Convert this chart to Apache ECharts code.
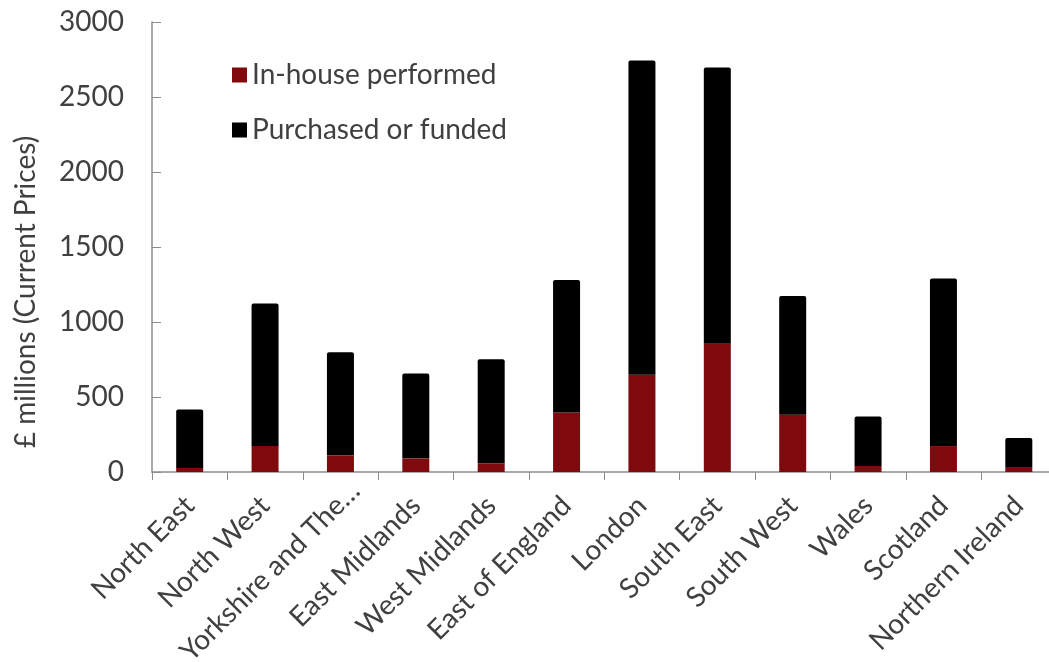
<!DOCTYPE html>
<html>
<head>
<meta charset="utf-8">
<script src="https://cdn.jsdelivr.net/npm/echarts@6/dist/echarts.min.js"></script>
<style>
  html, body { margin: 0; padding: 0; background: #fff; }
  #chart { width: 1049px; height: 662px; }
</style>
</head>
<body>
<div id="chart"></div>
<script>
// Regional R&D expenditure, £ millions (current prices)
const regions = ['North East', 'North West', 'Yorkshire and The Humber', 'East Midlands',
  'West Midlands', 'East of England', 'London', 'South East', 'South West', 'Wales',
  'Scotland', 'Northern Ireland'];
const inHouse = [27, 174, 111, 91, 58, 396, 648, 855, 381, 40, 173, 29];
const purchased = [389, 950, 688, 566, 694, 884, 2096, 1842, 792, 330, 1117, 198];
const yTicks = [0, 500, 1000, 1500, 2000, 2500, 3000];

const textColor = '#404040';
const fontFamily = 'Lato, "Open Sans", sans-serif';
const maxLabelChars = 17;

// shortened names sit a little further along their slant
const categoryData = regions.map(function (name) {
  return name.length > maxLabelChars
    ? { value: name, textStyle: { padding: [0, -21, 0, 0] } }
    : name;
});

const chart = echarts.init(document.getElementById('chart'));
chart.setOption({
  animation: false,
  textStyle: { fontFamily: fontFamily, color: textColor },
  // plot area runs slightly past the right edge of the canvas
  grid: { left: 152, right: -7.5, top: 22, bottom: 190, containLabel: false, outerBoundsMode: 'none' },
  legend: {
    orient: 'vertical',
    left: 227,
    top: 56,
    itemGap: 27,
    itemWidth: 15,
    itemHeight: 15,
    icon: 'rect',
    textStyle: { fontSize: 28, color: textColor, fontFamily: fontFamily },
    data: ['In-house performed', 'Purchased or funded']
  },
  xAxis: {
    type: 'category',
    data: categoryData,
    axisLine: { lineStyle: { color: '#8c8c8c', width: 1.5 } },
    axisTick: { show: true, inside: false, length: 8, lineStyle: { color: '#8c8c8c' } },
    axisLabel: {
      rotate: 45,
      interval: 0,
      fontSize: 28,
      color: textColor,
      fontFamily: fontFamily,
      margin: 29,
      formatter: function (v) {
        return v.length > maxLabelChars ? v.slice(0, maxLabelChars) + '…' : v;
      }
    }
  },
  yAxis: {
    type: 'value',
    min: yTicks[0],
    max: yTicks[yTicks.length - 1],
    interval: 500,
    name: '£ millions (Current Prices)',
    nameLocation: 'middle',
    nameGap: 112,
    nameTextStyle: { fontSize: 28, color: textColor, fontFamily: fontFamily, padding: [0, 90, 0, 0] },
    splitLine: { show: false },
    axisLine: { show: true, lineStyle: { color: '#8c8c8c', width: 1.5 } },
    axisTick: { show: true, inside: true, length: 9, lineStyle: { color: '#8c8c8c' } },
    axisLabel: {
      fontSize: 28,
      color: textColor,
      fontFamily: fontFamily,
      margin: 28,
      formatter: function (v) { return String(v); }
    }
  },
  series: [
    {
      name: 'In-house performed',
      type: 'bar',
      stack: 'total',
      barWidth: 27,
      data: inHouse,
      itemStyle: { color: '#7f0a0e' }
    },
    {
      name: 'Purchased or funded',
      type: 'bar',
      stack: 'total',
      barWidth: 27,
      data: purchased,
      itemStyle: { color: '#000000', borderRadius: [2, 2, 0, 0] }
    }
  ]
});
</script>
</body>
</html>
